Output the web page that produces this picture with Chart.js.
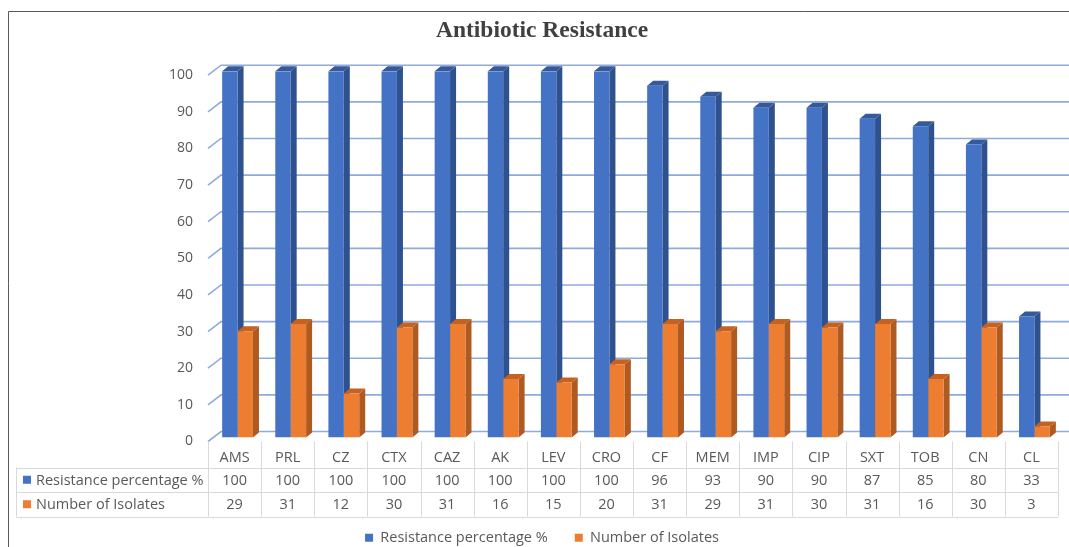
<!DOCTYPE html>
<html lang="en">
<head>
<meta charset="UTF-8">
<title>Antibiotic Resistance</title>
<script src="https://cdn.jsdelivr.net/npm/chart.js"></script>
<style>
    html, body { margin: 0; padding: 0; background: #fff; overflow: hidden; }
    #wrap { width: 1069px; height: 547px; overflow: hidden; }
</style>
</head>
<body>
<div id="wrap"><canvas id="chart" width="1069" height="555"></canvas></div>
<script>
// data
const antibiotics = ['AMS', 'PRL', 'CZ', 'CTX', 'CAZ', 'AK', 'LEV', 'CRO', 'CF', 'MEM', 'IMP', 'CIP', 'SXT', 'TOB', 'CN', 'CL'];
const resistancePct = [100, 100, 100, 100, 100, 100, 100, 100, 96, 93, 90, 90, 87, 85, 80, 33];
const isolates = [29, 31, 12, 30, 31, 16, 15, 20, 31, 29, 31, 30, 31, 16, 30, 3];
const yTicks = [0, 10, 20, 30, 40, 50, 60, 70, 80, 90, 100];
const seriesNames = ['Resistance percentage %', 'Number of Isolates'];

const BLUE = '#4472C4', ORANGE = '#ED7D31';
const faces = {
    [BLUE]: { side: '#2F528F', top: '#35599A' },
    [ORANGE]: { side: '#AE5A21', top: '#C5621F' }
};
const FONT = "'Open Sans', 'Liberation Sans', sans-serif";
const TEXT = '#595959';

// fake 3D: back wall gridlines, bar sides and tops
const depthPlugin = {
    id: 'depth',
    beforeDraw(chart) {
        const { ctx, width, height } = chart;
        ctx.save();
        ctx.fillStyle = '#fff';
        ctx.fillRect(0, 0, width, height);
        ctx.strokeStyle = '#595959';
        ctx.lineWidth = 1;
        ctx.beginPath();
        ctx.moveTo(8.5, height);
        ctx.lineTo(8.5, 11.5);
        ctx.lineTo(width, 11.5);
        ctx.stroke();
        ctx.restore();
    },
    beforeDatasetsDraw(chart) {
        const { ctx, chartArea: a, scales: { y } } = chart;
        ctx.save();
        ctx.strokeStyle = '#8FAADC';
        ctx.lineWidth = 1.6;
        yTicks.forEach(v => {
            const py = y.getPixelForValue(v);
            ctx.beginPath();
            ctx.moveTo(a.left, py + 4);
            ctx.lineTo(a.left + 13, py - 6);
            ctx.lineTo(a.right + 13, py - 6);
            ctx.stroke();
        });
        ctx.restore();

        ctx.save();
        ctx.translate(3, 0);
        const dx = 6, dy = 5;
        const metas = [chart.getDatasetMeta(0), chart.getDatasetMeta(1)];
        antibiotics.forEach((_, i) => {
            metas.forEach((meta, d) => {
                const bar = meta.data[i];
                const { x, y: top, base, width } = bar.getProps(['x', 'y', 'base', 'width'], true);
                const x0 = x - width / 2, x1 = x + width / 2;
                const col = chart.data.datasets[d].backgroundColor;
                ctx.fillStyle = faces[col].side;
                ctx.beginPath();
                ctx.moveTo(x1, top);
                ctx.lineTo(x1 + dx, top - dy);
                ctx.lineTo(x1 + dx, base - dy);
                ctx.lineTo(x1, base);
                ctx.closePath();
                ctx.fill();
                ctx.fillStyle = faces[col].top;
                ctx.beginPath();
                ctx.moveTo(x0, top);
                ctx.lineTo(x1, top);
                ctx.lineTo(x1 + dx, top - dy);
                ctx.lineTo(x0 + dx, top - dy);
                ctx.closePath();
                ctx.fill();
            });
        });
    },
    afterDatasetsDraw(chart) {
        chart.ctx.restore();
    }
};

// data table under the plot
const tablePlugin = {
    id: 'dataTable',
    afterDraw(chart) {
        const { ctx, chartArea: a, scales: { x } } = chart;
        const n = antibiotics.length;
        const colW = (x.right - x.left) / n;
        const tableLeft = 16;
        const headTop = a.bottom + 4;
        const row1 = a.bottom + 30;
        const rowH = 24.5;
        const rows = [resistancePct, isolates];
        const colors = [BLUE, ORANGE];

        ctx.save();
        ctx.strokeStyle = '#D9D9D9';
        ctx.lineWidth = 1;
        for (let i = 0; i <= n; i++) {
            const px = Math.round(x.left + i * colW) + 0.5;
            ctx.beginPath();
            ctx.moveTo(px, headTop);
            ctx.lineTo(px, row1 + 2 * rowH);
            ctx.stroke();
        }
        ctx.beginPath();
        ctx.moveTo(tableLeft + 0.5, row1);
        ctx.lineTo(tableLeft + 0.5, row1 + 2 * rowH);
        ctx.stroke();
        for (let r = 0; r <= 2; r++) {
            const py = Math.round(row1 + r * rowH) + 0.5;
            ctx.beginPath();
            ctx.moveTo(tableLeft, py);
            ctx.lineTo(x.right, py);
            ctx.stroke();
        }

        ctx.fillStyle = TEXT;
        ctx.font = '14.5px ' + FONT;
        ctx.textAlign = 'center';
        ctx.textBaseline = 'middle';
        antibiotics.forEach((lab, i) => {
            const cx = x.left + (i + 0.5) * colW;
            ctx.fillText(lab, cx, (headTop + row1) / 2 + 3);
            rows.forEach((vals, r) => {
                ctx.fillText(String(vals[i]), cx, row1 + (r + 0.5) * rowH + 1);
            });
        });
        ctx.textAlign = 'left';
        seriesNames.forEach((name, r) => {
            const cy = row1 + (r + 0.5) * rowH;
            ctx.fillStyle = colors[r];
            ctx.fillRect(23, cy - 4, 8, 8);
            ctx.fillStyle = TEXT;
            ctx.fillText(name, 36, cy + 1);
        });
        ctx.restore();
    }
};

new Chart(document.getElementById('chart'), {
    type: 'bar',
    data: {
        labels: antibiotics,
        datasets: [{
            label: seriesNames[0],
            data: resistancePct,
            backgroundColor: BLUE,
            borderWidth: 0
        }, {
            label: seriesNames[1],
            data: isolates,
            backgroundColor: ORANGE,
            borderWidth: 0
        }]
    },
    options: {
        responsive: false,
        animation: false,
        layout: { padding: { left: 26, right: 11, top: 0, bottom: 0 } },
        datasets: { bar: { categoryPercentage: 0.58, barPercentage: 1 } },
        plugins: {
            title: {
                display: true,
                text: 'Antibiotic Resistance',
                color: '#404040',
                font: { family: "'Liberation Serif', 'Times New Roman', serif", size: 23.5, weight: 'bold' },
                padding: { top: 17, bottom: 26 }
            },
            legend: {
                position: 'bottom',
                labels: {
                    boxWidth: 8,
                    boxHeight: 8,
                    padding: 27,
                    color: TEXT,
                    font: { family: FONT, size: 14.5 }
                }
            },
            tooltip: { enabled: false }
        },
        scales: {
            x: {
                grid: { display: false },
                border: { display: false },
                ticks: { display: false },
                afterFit(scale) { scale.height = 66; }
            },
            y: {
                min: 0,
                max: 100,
                grid: { display: false, drawTicks: false, tickLength: 0 },
                border: { display: false },
                afterBuildTicks(scale) { scale.ticks = yTicks.map(v => ({ value: v })); },
                ticks: {
                    color: TEXT,
                    padding: 15,
                    labelOffset: 4,
                    font: { family: FONT, size: 14 }
                },
                afterFit(scale) { scale.width = 182; }
            }
        }
    },
    plugins: [depthPlugin, tablePlugin]
});
</script>
</body>
</html>
